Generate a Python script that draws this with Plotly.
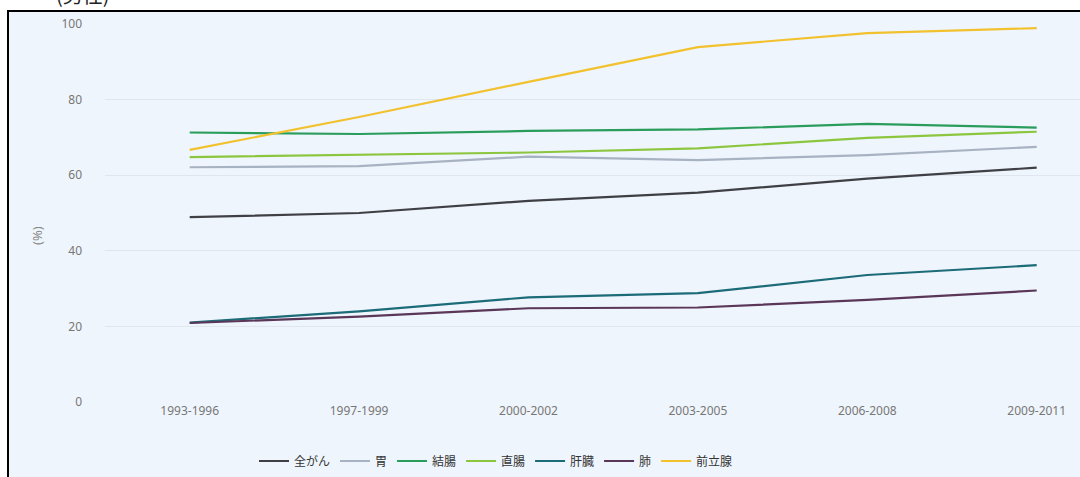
import plotly.graph_objects as go

periods = ["1993-1996", "1997-1999", "2000-2002", "2003-2005", "2006-2008", "2009-2011"]

all_cancer = [48.9, 50.0, 53.2, 55.4, 59.1, 62.0]
stomach = [62.1, 62.4, 64.9, 64.0, 65.3, 67.5]
colon = [71.3, 70.9, 71.7, 72.1, 73.6, 72.6]
rectum = [64.8, 65.4, 66.0, 67.1, 69.9, 71.5]
liver = [21.0, 24.0, 27.7, 28.8, 33.6, 36.2]
lung = [20.9, 22.6, 24.8, 25.0, 27.0, 29.5]
prostate = [66.7, 75.4, 84.7, 93.9, 97.6, 98.9]

series_names = ["全がん", "胃", "結腸", "直腸", "肝臓", "肺", "前立腺"]
series_values = [all_cancer, stomach, colon, rectum, liver, lung, prostate]
series_colors = ["#3f4045", "#a7b2c2", "#2a9d5c", "#8cc63f", "#1c6b78", "#5a3658", "#f2c12e"]

y_ticks = [0, 20, 40, 60, 80, 100]

fig = go.Figure()
for name, vals, col in zip(series_names, series_values, series_colors):
    fig.add_trace(go.Scatter(x=periods, y=vals, name=name, mode="lines",
                             line=dict(color=col, width=2.2)))

W, H = 1080, 477
ml, mr, mt, mb = 105, 0, 24, 75
pw = W - ml - mr
ph = H - mt - mb

def px2x(px):
    return (px - ml) / pw

def py2y(py):
    return (H - mb - py) / ph

fig.update_layout(
    width=W, height=H,
    margin=dict(l=ml, r=mr, t=mt, b=mb),
    paper_bgcolor="white",
    plot_bgcolor="rgba(0,0,0,0)",
    font=dict(family="Noto Sans, Noto Sans CJK JP, sans-serif", color="#777", size=12),
    showlegend=True,
    legend=dict(orientation="h", x=px2x(496), xanchor="center", y=py2y(461), yanchor="middle",
                font=dict(size=12, color="#333", family="Noto Sans CJK JP, sans-serif"),
                bgcolor="rgba(0,0,0,0)", itemwidth=30, tracegroupgap=0),
    xaxis=dict(range=[-0.5, -0.5 + pw / 169.4], showgrid=False, zeroline=False, showline=False,
               tickfont=dict(size=12, color="#777"), ticks=""),
    yaxis=dict(range=[0, 100], tickvals=y_ticks, showgrid=True, gridcolor="#dfe6ee", gridwidth=1,
               zeroline=False, showline=False, tickfont=dict(size=12, color="#777"),
               ticklabelstandoff=22),
    shapes=[dict(type="rect", xref="paper", yref="paper",
                 x0=px2x(8), x1=px2x(1100), y0=py2y(500), y1=py2y(11),
                 line=dict(color="black", width=2), fillcolor="#eff5fc", layer="below")],
    annotations=[
        dict(text="(%)", textangle=-90, xref="paper", yref="paper", x=px2x(37), y=py2y(236),
             xanchor="center", yanchor="middle",
             showarrow=False, font=dict(size=13, color="#888")),
        dict(text="(男性)", xref="paper", yref="paper", x=px2x(83), y=py2y(-6),
             xanchor="center", yanchor="middle",
             showarrow=False, font=dict(size=20, color="#222", family="Noto Sans CJK JP")),
    ],
)

fig.write_html("out.html", config={"displayModeBar": False},
               post_script="document.body.style.margin='0';")
